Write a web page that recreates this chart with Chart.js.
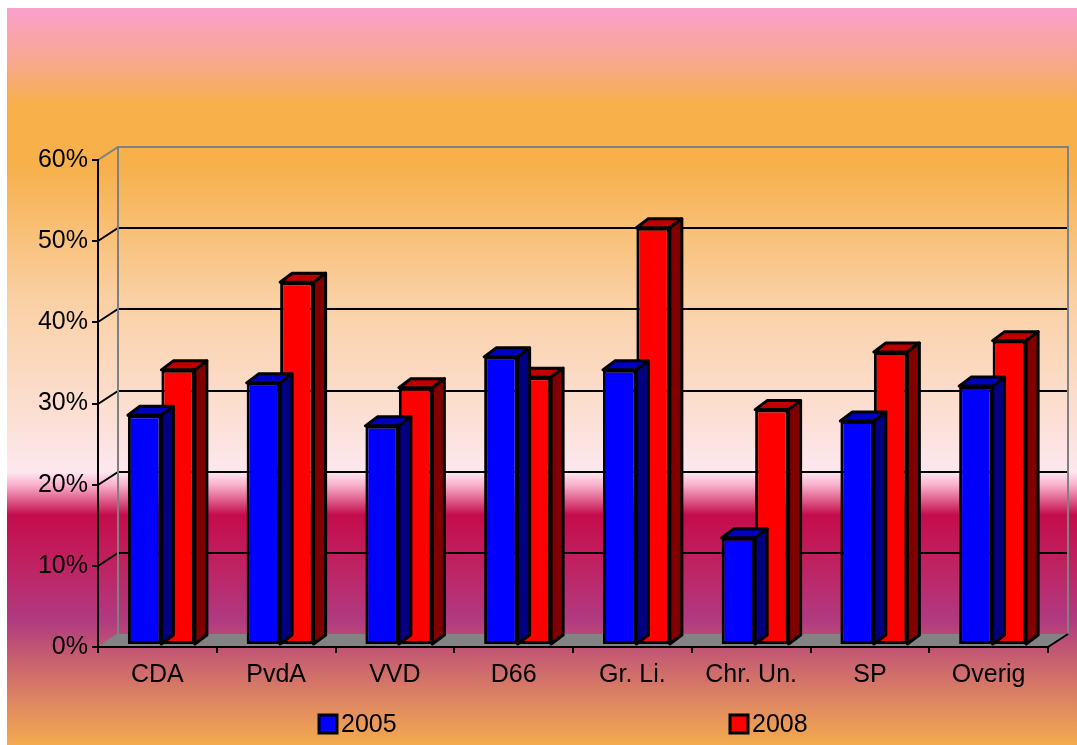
<!DOCTYPE html>
<html>
<head>
<meta charset="utf-8">
<script src="https://cdn.jsdelivr.net/npm/chart.js@4/dist/chart.umd.min.js"></script>
<style>
  html, body { margin: 0; padding: 0; background: #fff; }
  canvas { display: block; }
</style>
</head>
<body>
<canvas id="chart" width="1077" height="745"></canvas>
<script>
// data
const categories = ['CDA', 'PvdA', 'VVD', 'D66', 'Gr. Li.', 'Chr. Un.', 'SP', 'Overig'];
const seriesNames = ['2005', '2008'];
const values2005 = [0.283, 0.323, 0.270, 0.355, 0.339, 0.132, 0.276, 0.319];
const values2008 = [0.339, 0.447, 0.317, 0.330, 0.514, 0.290, 0.361, 0.375];
const yMax = 0.6;
const yStep = 0.1;

// 3d look
const WALL_DX = 20, WALL_DY = 13;   // depth of the back wall
const BAR_DX = 12, BAR_DY = 9;      // depth of a bar
const BAR_SHIFT_X = 4, BAR_SHIFT_Y = -2;
const frontColors = ['#0000ff', '#ff0000'];
const topColors = ['#0000c0', '#c00000'];
const sideColors = ['#000080', '#800000'];
const FONT = '"Liberation Sans", Arial, sans-serif';

const poly = (ctx, pts, fill) => {
    ctx.beginPath();
    ctx.moveTo(pts[0][0], pts[0][1]);
    for (let i = 1; i < pts.length; i++) ctx.lineTo(pts[i][0], pts[i][1]);
    ctx.closePath();
    ctx.fillStyle = fill;
    ctx.fill();
    ctx.stroke();
}

const scene = {
    id: 'scene',
    beforeDraw(chart) {
        const {ctx, chartArea: a} = chart;
        const y = chart.scales.y;
        ctx.save();
        ctx.fillStyle = '#fff';
        ctx.fillRect(0, 0, chart.width, chart.height);
        const g = ctx.createLinearGradient(0, 8, 0, chart.height);
        const h = chart.height - 8;
        const stop = (py, c) => g.addColorStop((py - 8) / h, c);
        stop(8, '#faa0cc');
        stop(60, '#f8a890');
        stop(105, '#f7b04a');
        stop(165, '#f7b04a');
        stop(300, '#fad0a4');
        stop(420, '#fce0d6');
        stop(472, '#fde8f0');
        stop(485, '#fab0cc');
        stop(515, '#c40c4c');
        stop(560, '#c02060');
        stop(620, '#b03a80');
        stop(660, '#c86070');
        stop(705, '#e08a60');
        stop(745, '#f4aa4e');
        ctx.fillStyle = g;
        ctx.fillRect(7, 8, chart.width - 7, chart.height - 8);

        const y0 = Math.round(y.getPixelForValue(0));
        const yTop = Math.round(y.getPixelForValue(yMax));

        // floor
        ctx.strokeStyle = '#808080';
        ctx.lineWidth = 2;
        ctx.beginPath();
        ctx.moveTo(a.left, y0);
        ctx.lineTo(a.right, y0);
        ctx.lineTo(a.right + WALL_DX, y0 - WALL_DY);
        ctx.lineTo(a.left + WALL_DX, y0 - WALL_DY);
        ctx.closePath();
        ctx.fillStyle = '#838383';
        ctx.fill();

        // gridlines on the back wall
        ctx.strokeStyle = '#000';
        y.ticks.forEach(t => {
            if (t.value <= 0 || t.value >= yMax - 1e-9) return;
            const yf = Math.round(y.getPixelForValue(t.value));
            ctx.beginPath();
            ctx.moveTo(a.left, yf);
            ctx.lineTo(a.left + WALL_DX, yf - WALL_DY);
            ctx.lineTo(a.right + WALL_DX, yf - WALL_DY);
            ctx.stroke();
        });

        // wall frame
        ctx.strokeStyle = '#808080';
        ctx.beginPath();
        ctx.moveTo(a.left, yTop);
        ctx.lineTo(a.left + WALL_DX, yTop - WALL_DY);
        ctx.lineTo(a.right + WALL_DX, yTop - WALL_DY);
        ctx.lineTo(a.right + WALL_DX, y0 - WALL_DY);
        ctx.moveTo(a.left + WALL_DX, yTop - WALL_DY);
        ctx.lineTo(a.left + WALL_DX, y0 - WALL_DY);
        ctx.moveTo(a.left, y0);
        ctx.lineTo(a.left + WALL_DX, y0 - WALL_DY);
        ctx.stroke();

        ctx.strokeStyle = '#000';
        ctx.beginPath();
        ctx.moveTo(a.right, y0);
        ctx.lineTo(a.right + WALL_DX, y0 - WALL_DY);
        ctx.stroke();
        ctx.restore();
    },
    beforeDatasetsDraw(chart) {
        chart.ctx.save();
        chart.ctx.translate(BAR_SHIFT_X, BAR_SHIFT_Y);
    },
    afterDatasetDraw(chart, args) {
        const ctx = chart.ctx;
        ctx.save();
        ctx.strokeStyle = '#000';
        ctx.lineWidth = 3;
        ctx.lineJoin = 'round';
        args.meta.data.forEach(bar => {
            const {x, y, base, width} = bar.getProps(['x', 'y', 'base', 'width'], true);
            const l = x - width / 2, r = x + width / 2;
            poly(ctx, [[l, y], [r, y], [r + BAR_DX, y - BAR_DY], [l + BAR_DX, y - BAR_DY]], topColors[args.index]);
            poly(ctx, [[r, y], [r + BAR_DX, y - BAR_DY], [r + BAR_DX, base - BAR_DY], [r, base]], sideColors[args.index]);
        });
        ctx.restore();
    },
    afterDatasetsDraw(chart) {
        chart.ctx.restore();
    },
    afterDraw(chart) {
        // legend
        const ctx = chart.ctx;
        const xs = [319, 730];
        ctx.save();
        ctx.font = '25px ' + FONT;
        ctx.textBaseline = 'alphabetic';
        ctx.lineWidth = 3;
        chart.data.datasets.forEach((ds, i) => {
            ctx.fillStyle = ds.backgroundColor;
            ctx.fillRect(xs[i], 715, 18, 18);
            ctx.strokeStyle = '#000';
            ctx.strokeRect(xs[i], 715, 18, 18);
            ctx.fillStyle = '#000';
            ctx.fillText(ds.label, xs[i] + 22, 732);
        });
        ctx.restore();
    }
}

new Chart(document.getElementById('chart'), {
    type: 'bar',
    data: {
        labels: categories,
        datasets: [
            {label: seriesNames[0], data: values2005, backgroundColor: frontColors[0]},
            {label: seriesNames[1], data: values2008, backgroundColor: frontColors[1]}
        ]
    },
    options: {
        responsive: false,
        devicePixelRatio: 1,
        animation: false,
        layout: {padding: {top: 160, right: 29, left: 0, bottom: 0}},
        datasets: {
            bar: {
                borderColor: '#000',
                borderWidth: 3,
                borderSkipped: false,
                barPercentage: 1,
                categoryPercentage: 0.564
            }
        },
        plugins: {
            legend: {display: false},
            tooltip: {enabled: false}
        },
        scales: {
            x: {
                afterFit: (s) => { s.height = 98; },
                grid: {display: true, drawOnChartArea: false, drawTicks: true, tickLength: 6, color: '#000', lineWidth: 2, offset: true},
                border: {display: true, color: '#000', width: 2},
                ticks: {color: '#000', padding: 7, font: {family: FONT, size: 25}}
            },
            y: {
                min: 0,
                max: yMax,
                afterFit: (s) => { s.width = 98; },
                grid: {display: true, drawOnChartArea: false, drawTicks: true, tickLength: 6, color: '#000', lineWidth: 2},
                border: {display: true, color: '#000', width: 2},
                ticks: {
                    stepSize: yStep,
                    color: '#000',
                    padding: 4,
                    font: {family: FONT, size: 25},
                    callback: (v) => Math.round(v * 100) + '%'
                }
            }
        }
    },
    plugins: [scene]
});
</script>
</body>
</html>
